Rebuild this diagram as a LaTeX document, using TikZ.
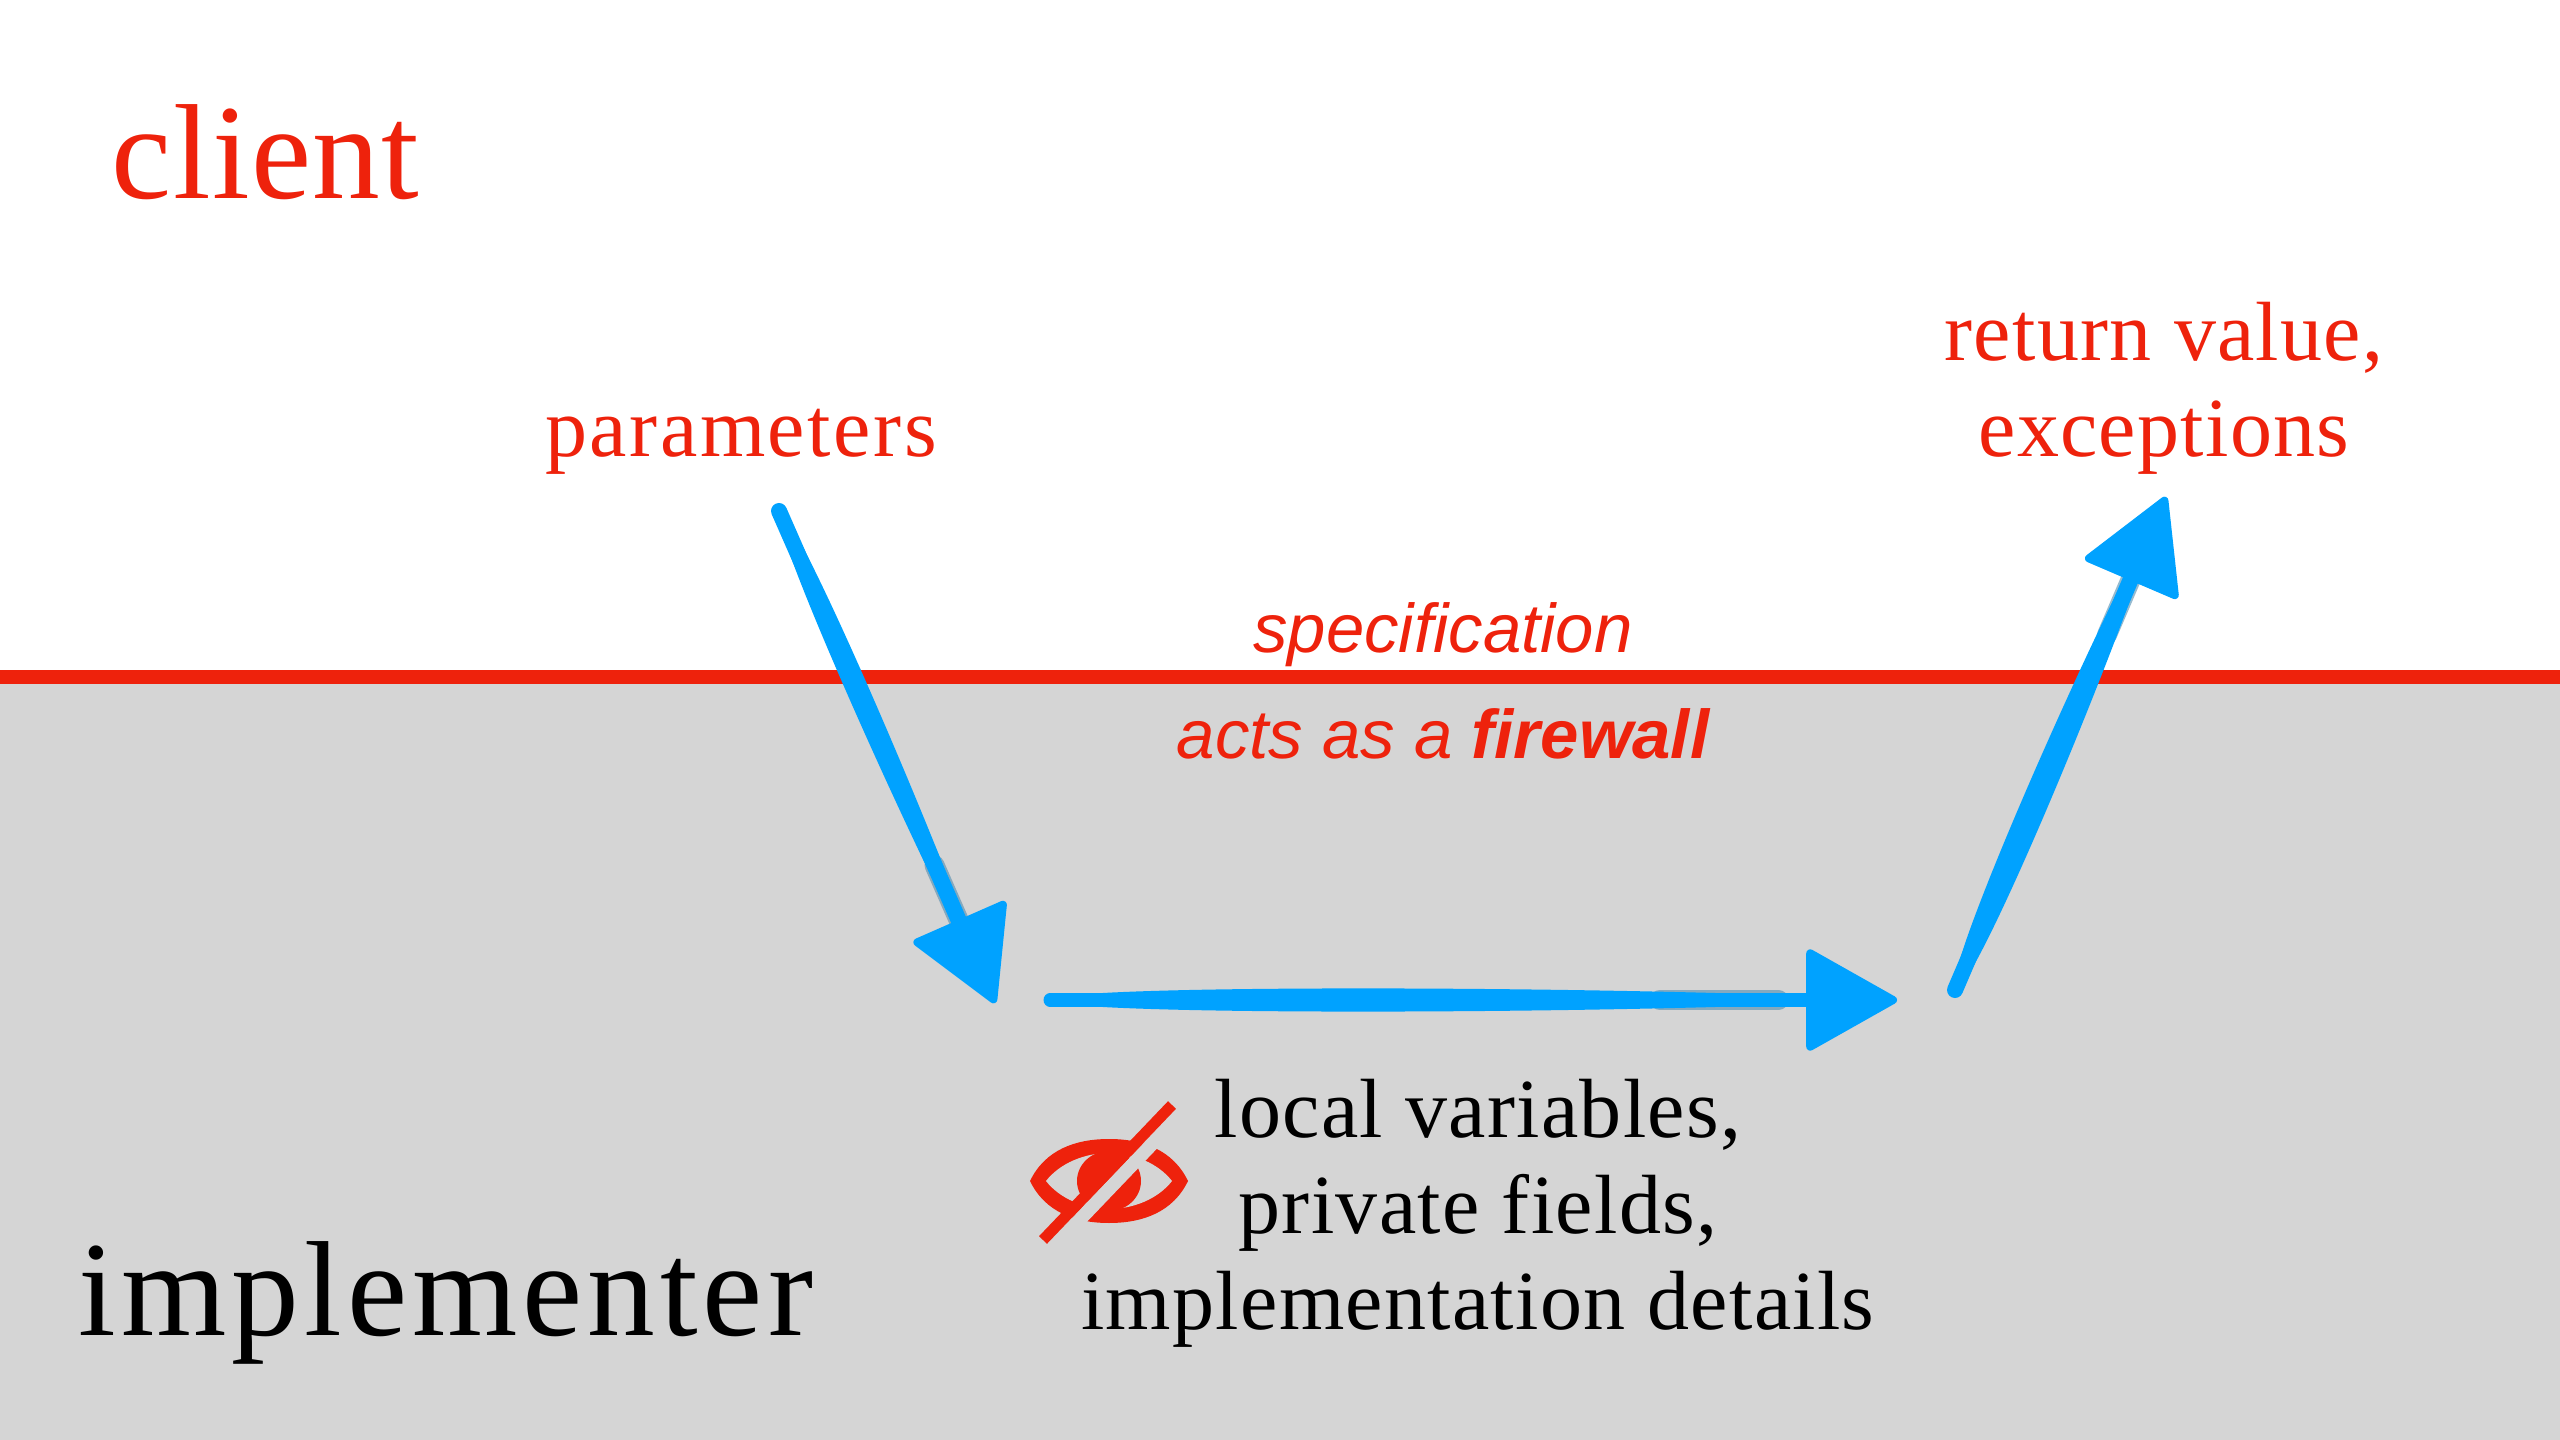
\documentclass[tikz,border=0pt]{standalone}
\usepackage{fontspec}
\setmainfont{Liberation Serif}[LetterSpace=1.5]
\newfontfamily\labelfont{Liberation Sans}
\usetikzlibrary{positioning, arrows.meta, calc}
\definecolor{ClientColor}{RGB}{238,34,12}
\definecolor{FlowColor}{RGB}{0,162,255}
\definecolor{SideColor}{RGB}{213,213,213}
\definecolor{StreakColor}{RGB}{80,140,175}
\tikzstyle{role} = [inner sep=0pt, anchor=base west, font=\fontsize{38.5}{46}\selectfont]
\tikzstyle{note} = [inner sep=0pt, align=center, font=\fontsize{23.9}{27.3}\selectfont]
\tikzstyle{spec} = [inner sep=0pt, anchor=base, text=ClientColor, font=\labelfont\itshape\fontsize{19.6}{24}\selectfont]
\tikzstyle{flow} = [FlowColor, line width=0.16cm, line cap=round, -{Triangle[length=0.95cm, width=1.05cm, line width=0.08cm, round]}]
\tikzstyle{streak} = [StreakColor, opacity=0.6, line width=0.2cm, line cap=round]
\tikzstyle{eyepart} = [ClientColor, line join=round]
% tapered body under a flow arrow: from, to, half width
\newcommand{\brushbody}[3]{
  \draw[streak] ($(#1)!0.72!(#2)$) -- ($(#1)!0.86!(#2)$);
  \fill[FlowColor] (#1) .. controls ($(#1)!0.01!(#2)!#3*1.5!90:(#2)$) and ($(#1)!0.7!(#2)!#3*1.3!90:(#2)$) .. (#2)
    .. controls ($(#1)!0.7!(#2)!#3*1.3!-90:(#2)$) and ($(#1)!0.01!(#2)!#3*1.5!-90:(#2)$) .. (#1) -- cycle;
}
\begin{document}
\begin{tikzpicture}[x=0.01cm, y=-0.01cm]
  \useasboundingbox (0,0) rectangle (2560,1440);
  % Sides
  \fill[SideColor] (0,677) rectangle (2560,1440);
  \draw[ClientColor, line width=0.13cm] (0,677) -- (2560,677);
  \node[role, text=ClientColor] (client) at (111,199) {\addfontfeature{LetterSpace=1}client};
  \node[role] (implementer) at (78,1335) {\addfontfeature{LetterSpace=3.7}implementer};

  % Labels
  \node[note, text=ClientColor, anchor=base] (parameters) at (741,457) {\addfontfeature{LetterSpace=3}parameters};
  \node[note, text=ClientColor] (results) at (2164,388) {return value,\\exceptions};
  \node[spec] (specification) at (1443,653) {specification};
  \node[spec] (firewall) at (1443,759) {acts as a \textbf{firewall}};
  \node[note] (hidden) at (1478,1213) {local variables,\\private fields,\\implementation details};

  % Flow
  \coordinate (paramIn) at (779,511);
  \coordinate (paramOut) at (995,1003);
  \coordinate (bodyIn) at (1050,1000);
  \coordinate (bodyOut) at (1897,1000);
  \coordinate (resultIn) at (1955,990);
  \coordinate (resultOut) at (2166,497);
  \brushbody{paramIn}{paramOut}{0.105cm}
  \brushbody{bodyIn}{bodyOut}{0.11cm}
  \brushbody{resultIn}{resultOut}{0.125cm}
  \draw[flow] (paramIn) -- (paramOut);
  \draw[flow, line width=0.13cm] (bodyIn) -- (bodyOut);
  \draw[flow] (resultIn) -- (resultOut);

  % Crossed eye
  \fill[eyepart] (1030,1181) .. controls (1045,1150) and (1075,1139) .. (1109,1139)
    .. controls (1143,1139) and (1173,1150) .. (1188,1181)
    .. controls (1173,1212) and (1143,1223) .. (1109,1223)
    .. controls (1075,1223) and (1045,1212) .. (1030,1181) -- cycle;
  \fill[SideColor] (1046,1181) .. controls (1060,1163) and (1085,1153) .. (1109,1153)
    .. controls (1133,1153) and (1158,1163) .. (1172,1181)
    .. controls (1158,1199) and (1133,1209) .. (1109,1209)
    .. controls (1085,1209) and (1060,1199) .. (1046,1181) -- cycle;
  \fill[eyepart] (1109,1181) ellipse [x radius=32, y radius=30];
  \draw[SideColor, line width=0.135cm] (1175,1120) -- (1065,1235);
  \draw[ClientColor, line width=0.11cm] (1172,1105) -- (1043,1240);
\end{tikzpicture}
\end{document}
